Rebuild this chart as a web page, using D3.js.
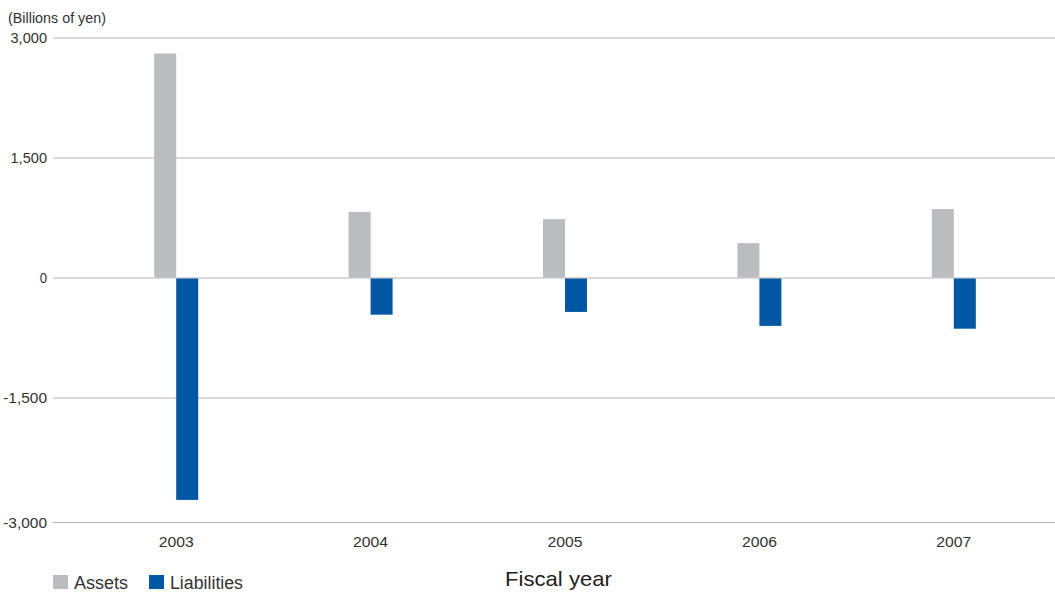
<!DOCTYPE html>
<html>
<head>
<meta charset="utf-8">
<script src="https://cdn.jsdelivr.net/npm/d3@7"></script>
<style>
  body { margin: 0; background: #fff; }
  svg { display: block; font-family: "Liberation Sans", Arial, sans-serif; }
</style>
</head>
<body>
<svg id="chart" width="1055" height="592"></svg>
<script>
// Fiscal years and yearly changes (billions of yen)
const years = ["2003", "2004", "2005", "2006", "2007"];
const assets = [2800, 820, 730, 430, 855];
const liabilities = [-2780, -465, -430, -605, -640];
const yTicks = [3000, 1500, 0, -1500, -3000];
const seriesNames = ["Assets", "Liabilities"];
const seriesColors = ["#bbbcbf", "#0057a4"];

const svg = d3.select("#chart");
const gridLeft = 53, gridRight = 1055;
const plotBottom = 522;

const y = d3.scaleLinear().domain([-3000, 3000]).range([517.5, 37.5]);
const x = d3.scaleBand().domain(years).range([79, 1051]).padding(0);
const barW = 22;

// thousands separator with a plain hyphen for negatives
const fmt = v => d3.format(",")(v).replace("\u2212", "-");

// horizontal gridlines with tick labels; the lowest one sits on the axis baseline
const tickY = v => v === -3000 ? plotBottom : y(v);
const grid = svg.append("g");
grid.selectAll("line").data(yTicks).join("line")
  .attr("x1", gridLeft).attr("x2", gridRight)
  .attr("y1", d => tickY(d) + 0.5).attr("y2", d => tickY(d) + 0.5)
  .attr("stroke", "#b4b4b4").attr("stroke-width", 1.2);
grid.selectAll("text").data(yTicks).join("text")
  .attr("x", 47).attr("y", d => tickY(d) + 5.5)
  .attr("text-anchor", "end")
  .attr("font-size", 15.5).attr("fill", "#333")
  .attr("textLength", d => fmt(d).length * 7.3)
  .attr("lengthAdjust", "spacingAndGlyphs")
  .text(d => fmt(d));

svg.append("text").attr("x", 8).attr("y", 23)
  .attr("font-size", 14.5).attr("fill", "#333")
  .attr("textLength", 98).attr("lengthAdjust", "spacingAndGlyphs")
  .text("(Billions of yen)");

// bars
const bars = svg.append("g");
years.forEach((yr, i) => {
  const cx = x(yr) + x.bandwidth() / 2;
  bars.append("rect")
    .attr("x", cx - barW).attr("width", barW)
    .attr("y", y(assets[i])).attr("height", y(0) - y(assets[i]))
    .attr("fill", seriesColors[0]);
  bars.append("rect")
    .attr("x", cx).attr("width", barW)
    .attr("y", y(0) + 1).attr("height", y(liabilities[i]) - y(0) - 1)
    .attr("fill", seriesColors[1]);
});

// year labels
svg.append("g").selectAll("text").data(years).join("text")
  .attr("x", d => x(d) + x.bandwidth() / 2)
  .attr("y", 547)
  .attr("text-anchor", "middle")
  .attr("font-size", 15.5).attr("fill", "#333")
  .attr("textLength", 35).attr("lengthAdjust", "spacingAndGlyphs")
  .text(d => d);

// legend
const legendX = [53, 149];
const legendW = [54, 73];
const legend = svg.append("g");
seriesNames.forEach((name, i) => {
  legend.append("rect")
    .attr("x", legendX[i]).attr("y", 575).attr("width", 15).attr("height", 14)
    .attr("fill", seriesColors[i]);
  legend.append("text")
    .attr("x", legendX[i] + 21).attr("y", 589)
    .attr("font-size", 18).attr("fill", "#333")
    .attr("textLength", legendW[i]).attr("lengthAdjust", "spacingAndGlyphs")
    .text(name);
});

svg.append("text").attr("x", 505).attr("y", 586)
  .attr("font-size", 21).attr("fill", "#222")
  .attr("textLength", 107).attr("lengthAdjust", "spacingAndGlyphs")
  .text("Fiscal year");
</script>
</body>
</html>
